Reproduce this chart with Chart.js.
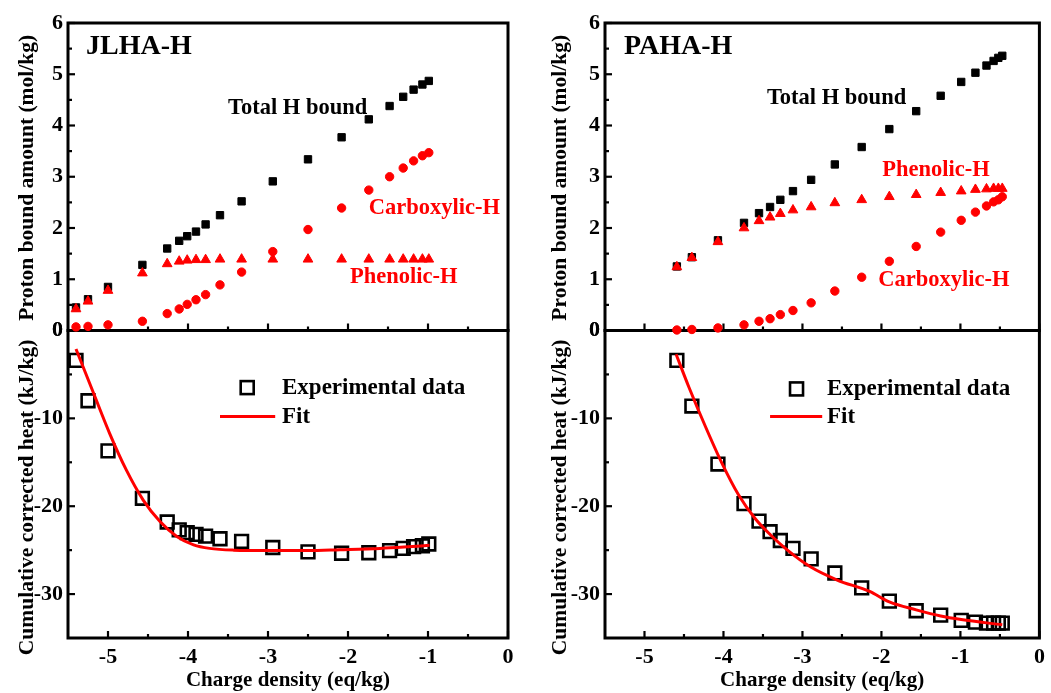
<!DOCTYPE html>
<html>
<head>
<meta charset="utf-8">
<script src="https://cdn.jsdelivr.net/npm/chart.js@4.4.1/dist/chart.umd.min.js"></script>
<style>
  html, body { margin: 0; padding: 0; background: #fff; }
  body { width: 1051px; height: 693px; position: relative; overflow: hidden; }
  canvas { position: absolute; top: 0; }
  #jlha { left: 0; }
  #paha { left: 525px; }
</style>
</head>
<body>
<canvas id="jlha" width="525" height="693"></canvas>
<canvas id="paha" width="526" height="693"></canvas>
<script>
// axis ticks
const chargeTicks = [-5, -4, -3, -2, -1, 0];
const chargeMinor = [-4.5, -3.5, -2.5, -1.5, -0.5];
const protonTicks = [0, 1, 2, 3, 4, 5, 6];
const protonMinor = [0.5, 1.5, 2.5, 3.5, 4.5, 5.5];
const heatTicks = [-30, -20, -10, 0];
const heatMinor = [-25, -15, -5];

// JLHA-H
const jlhaCharge = [-5.40, -5.25, -5.00, -4.57, -4.26, -4.11, -4.01, -3.90, -3.78, -3.60, -3.33, -2.94, -2.50, -2.08, -1.74, -1.48, -1.31, -1.18, -1.07, -0.99];
const jlhaTotal = [0.45, 0.61, 0.85, 1.28, 1.60, 1.75, 1.84, 1.93, 2.07, 2.25, 2.52, 2.91, 3.34, 3.77, 4.12, 4.38, 4.56, 4.70, 4.80, 4.87];
const jlhaCarboxylic = [0.07, 0.08, 0.11, 0.18, 0.33, 0.42, 0.51, 0.60, 0.70, 0.89, 1.14, 1.54, 1.97, 2.39, 2.74, 3.00, 3.17, 3.31, 3.41, 3.47];
const jlhaPhenolic = [0.42, 0.57, 0.78, 1.12, 1.30, 1.35, 1.37, 1.38, 1.38, 1.39, 1.39, 1.39, 1.39, 1.39, 1.39, 1.39, 1.39, 1.39, 1.39, 1.39];
const jlhaHeat = [-3.4, -8.0, -13.7, -19.1, -21.8, -22.7, -23.0, -23.2, -23.4, -23.7, -24.0, -24.7, -25.2, -25.35, -25.3, -25.05, -24.8, -24.6, -24.5, -24.3];
const jlhaFitCharge = [-5.40, -5.18, -4.98, -4.77, -4.56, -4.35, -4.14, -3.93, -3.73, -3.43, -3.0, -2.5, -2.1, -1.6, -1.3, -0.98];
const jlhaFitHeat = [-2.1, -7.15, -11.7, -15.9, -19.3, -21.75, -23.45, -24.4, -24.8, -25.0, -25.05, -25.05, -24.95, -24.8, -24.65, -24.45];

// PAHA-H
const pahaCharge = [-4.59, -4.40, -4.07, -3.74, -3.55, -3.41, -3.28, -3.12, -2.89, -2.59, -2.25, -1.90, -1.56, -1.25, -0.99, -0.81, -0.67, -0.58, -0.52, -0.47];
const pahaTotal = [1.25, 1.43, 1.76, 2.10, 2.29, 2.41, 2.55, 2.72, 2.94, 3.24, 3.58, 3.93, 4.28, 4.58, 4.85, 5.03, 5.17, 5.26, 5.32, 5.36];
const pahaPhenolic = [1.24, 1.42, 1.73, 2.00, 2.14, 2.21, 2.28, 2.35, 2.41, 2.49, 2.55, 2.61, 2.65, 2.69, 2.72, 2.75, 2.76, 2.77, 2.77, 2.77];
const pahaCarboxylic = [0.01, 0.02, 0.05, 0.11, 0.18, 0.23, 0.31, 0.39, 0.54, 0.77, 1.04, 1.35, 1.64, 1.92, 2.15, 2.31, 2.43, 2.51, 2.55, 2.61];
const pahaHeat = [-3.4, -8.6, -15.2, -19.7, -21.7, -22.9, -23.9, -24.8, -26.0, -27.6, -29.3, -30.8, -31.9, -32.4, -33.0, -33.2, -33.3, -33.3, -33.3, -33.3];
const pahaFitCharge = [-4.60, -4.44, -4.23, -4.02, -3.81, -3.60, -3.40, -3.19, -2.90, -2.56, -2.15, -1.90, -1.56, -1.25, -0.99, -0.47];
const pahaFitHeat = [-2.7, -6.4, -10.9, -15.1, -18.7, -21.4, -23.3, -25.0, -26.9, -28.4, -29.7, -30.9, -31.8, -32.5, -32.9, -33.5];

const RED = "#ff0000";
const FONT = "Liberation Serif";
const zip = (xs, ys) => xs.map((x, i) => ({ x, y: ys[i] }));

// frame boxes + inward ticks, like the Origin plot
const framePlugin = {
    id: "frame",
    beforeDatasetsDraw(chart) {
        const { ctx, chartArea: a, scales } = chart;
        const line = (x1, y1, x2, y2) => {
            ctx.beginPath();
            ctx.moveTo(x1, y1);
            ctx.lineTo(x2, y2);
            ctx.stroke();
        };
        ctx.save();
        ctx.strokeStyle = "#000";
        const panels = [
            [scales.yTop, protonTicks, protonMinor],
            [scales.yHeat, heatTicks, heatMinor]
        ];
        ctx.lineWidth = 2.2;
        panels.forEach(([s, major, minor]) => {
            major.forEach(v => { const y = s.getPixelForValue(v); line(a.left, y, a.left + 7, y); });
            minor.forEach(v => { const y = s.getPixelForValue(v); line(a.left, y, a.left + 4, y); });
            chargeTicks.forEach(v => { const x = scales.x.getPixelForValue(v); line(x, s.bottom, x, s.bottom - 7); });
            chargeMinor.forEach(v => { const x = scales.x.getPixelForValue(v); line(x, s.bottom, x, s.bottom - 4); });
        });
        ctx.lineWidth = 3;
        panels.forEach(([s]) => ctx.strokeRect(a.left, s.top, a.right - a.left, s.bottom - s.top));
        ctx.restore();
    }
};

// text labels, y titles and the small legend
const notePlugin = {
    id: "notes",
    afterDatasetsDraw(chart, args, opts) {
        const { ctx, scales } = chart;
        ctx.save();
        ctx.textBaseline = "middle";
        ctx.textAlign = "left";
        (opts.items || []).forEach(n => {
            const s = scales[n.axis];
            const x = scales.x.getPixelForValue(n.x);
            const y = s.getPixelForValue(n.y);
            if (n.kind === "square") {
                ctx.strokeStyle = "#000";
                ctx.lineWidth = 2.6;
                ctx.strokeRect(x - 6.5, y - 6.5, 13, 13);
            } else if (n.kind === "line") {
                ctx.strokeStyle = RED;
                ctx.lineWidth = 3;
                ctx.beginPath();
                ctx.moveTo(x, y);
                ctx.lineTo(scales.x.getPixelForValue(n.x2), y);
                ctx.stroke();
            } else {
                ctx.fillStyle = n.color || "#000";
                ctx.font = `bold ${n.size || 22.5}px "${FONT}"`;
                ctx.fillText(n.text, x, y);
            }
        });
        // rotated axis titles
        ctx.fillStyle = "#000";
        ctx.textAlign = "center";
        ctx.font = `bold 21.5px "${FONT}"`;
        (opts.yTitles || []).forEach(t => {
            ctx.save();
            ctx.translate(t.left, scales[t.axis].getPixelForValue(t.mid));
            ctx.rotate(-Math.PI / 2);
            ctx.fillText(t.text, 0, 0);
            ctx.restore();
        });
        ctx.restore();
    }
};

function makePanel(id, d) {
    const tickFont = { family: FONT, size: 22, weight: "bold" };
    const fixTicks = list => s => { s.ticks = list.map(v => ({ value: v })); };
    const yScale = (weight, min, max, ticks) => ({
        type: "linear",
        position: "left",
        stack: "panels",
        stackWeight: 1,
        weight,
        min,
        max,
        afterBuildTicks: fixTicks(ticks),
        afterFit: s => { s.width = d.yWidth; s.paddingTop = 0; s.paddingBottom = 0; },
        grid: { display: false, drawTicks: false },
        border: { display: false },
        ticks: { color: "#000", font: tickFont, padding: 5, autoSkip: false }
    });

    return new Chart(document.getElementById(id), {
        type: "scatter",
        data: {
            datasets: [
                {
                    label: "Fit",
                    data: zip(d.fitCharge, d.fitHeat),
                    yAxisID: "yHeat",
                    showLine: true,
                    cubicInterpolationMode: "monotone",
                    borderColor: RED,
                    borderWidth: 3,
                    pointRadius: 0
                },
                {
                    label: "Experimental data",
                    data: zip(d.charge, d.heat),
                    yAxisID: "yHeat",
                    pointStyle: "rect",
                    pointRadius: 9,
                    borderWidth: 2.6,
                    borderColor: "#000",
                    backgroundColor: "rgba(0,0,0,0)"
                },
                {
                    label: "Phenolic-H",
                    data: zip(d.charge, d.phenolic),
                    yAxisID: "yTop",
                    pointStyle: "triangle",
                    pointRadius: 5.6,
                    borderWidth: 1,
                    borderColor: RED,
                    backgroundColor: RED
                },
                {
                    label: "Carboxylic-H",
                    data: zip(d.charge, d.carboxylic),
                    yAxisID: "yTop",
                    pointStyle: "circle",
                    pointRadius: 4.2,
                    borderWidth: 1,
                    borderColor: RED,
                    backgroundColor: RED
                },
                {
                    label: "Total H bound",
                    data: zip(d.charge, d.total),
                    yAxisID: "yTop",
                    pointStyle: "rect",
                    pointRadius: 5.2,
                    borderWidth: 1,
                    borderColor: "#000",
                    backgroundColor: "#000"
                }
            ]
        },
        options: {
            responsive: false,
            animation: false,
            clip: false,
            layout: { padding: d.padding },
            scales: {
                x: {
                    type: "linear",
                    min: -5.5,
                    max: 0,
                    afterBuildTicks: fixTicks(chargeTicks),
                    afterFit: s => { s.height = 55; s.paddingLeft = 0; s.paddingRight = 0; },
                    grid: { display: false, drawTicks: false },
                    border: { display: false },
                    ticks: { color: "#000", font: tickFont, padding: 6, maxRotation: 0, autoSkip: false },
                    title: {
                        display: true,
                        text: "Charge density (eq/kg)",
                        color: "#000",
                        font: { family: FONT, size: 21, weight: "bold" },
                        padding: { top: 0, bottom: 0 }
                    }
                },
                yTop: yScale(1, 0, 6, protonTicks),
                yHeat: yScale(0, -35, 0, heatTicks)
            },
            plugins: {
                legend: { display: false },
                tooltip: { enabled: false },
                notes: {
                    items: d.notes,
                    yTitles: [
                        { axis: "yTop", mid: 2.98, left: d.titleLeft, text: "Proton bound amount (mol/kg)" },
                        { axis: "yHeat", mid: -19.0, left: d.titleLeft, text: "Cumulative corrected heat (kJ/kg)" }
                    ]
                }
            }
        },
        plugins: [framePlugin, notePlugin]
    });
}

makePanel("jlha", {
    charge: jlhaCharge, total: jlhaTotal, carboxylic: jlhaCarboxylic, phenolic: jlhaPhenolic,
    heat: jlhaHeat, fitCharge: jlhaFitCharge, fitHeat: jlhaFitHeat,
    padding: { left: 10, top: 23, right: 17, bottom: 0 },
    yWidth: 58,
    titleLeft: 27,
    notes: [
        { axis: "yTop", x: -5.275, y: 5.53, text: "JLHA-H", size: 28 },
        { axis: "yTop", x: -3.5, y: 4.34, text: "Total H bound" },
        { axis: "yTop", x: -1.74, y: 2.39, text: "Carboxylic-H", color: RED },
        { axis: "yTop", x: -1.975, y: 1.04, text: "Phenolic-H", color: RED },
        { axis: "yHeat", kind: "square", x: -3.26, y: -6.5 },
        { axis: "yHeat", x: -2.825, y: -6.5, text: "Experimental data", size: 23 },
        { axis: "yHeat", kind: "line", x: -3.6, x2: -2.91, y: -9.8 },
        { axis: "yHeat", x: -2.825, y: -9.8, text: "Fit", size: 23 }
    ]
});

makePanel("paha", {
    charge: pahaCharge, total: pahaTotal, carboxylic: pahaCarboxylic, phenolic: pahaPhenolic,
    heat: pahaHeat, fitCharge: pahaFitCharge, fitHeat: pahaFitHeat,
    padding: { left: 18, top: 23, right: 6, bottom: 0 },
    yWidth: 62,
    titleLeft: 35,
    notes: [
        { axis: "yTop", x: -5.26, y: 5.53, text: "PAHA-H", size: 28 },
        { axis: "yTop", x: -3.45, y: 4.54, text: "Total H bound" },
        { axis: "yTop", x: -1.99, y: 3.13, text: "Phenolic-H", color: RED },
        { axis: "yTop", x: -2.04, y: 0.98, text: "Carboxylic-H", color: RED },
        { axis: "yHeat", kind: "square", x: -3.075, y: -6.65 },
        { axis: "yHeat", x: -2.69, y: -6.65, text: "Experimental data", size: 23 },
        { axis: "yHeat", kind: "line", x: -3.41, x2: -2.75, y: -9.8 },
        { axis: "yHeat", x: -2.69, y: -9.8, text: "Fit", size: 23 }
    ]
});
</script>
</body>
</html>
